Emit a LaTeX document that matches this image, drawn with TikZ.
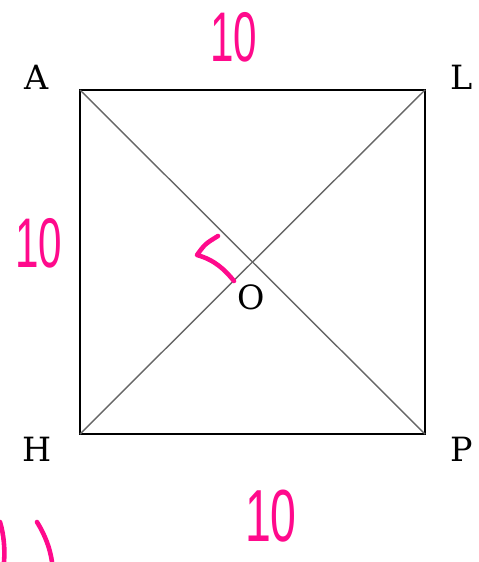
\documentclass[tikz,border=0pt]{standalone}
\usepackage{fontspec}
\newfontfamily\cornerfont{DejaVu Serif}
\newfontfamily\penfont{Liberation Sans}
\usetikzlibrary{positioning}
\definecolor{marker}{HTML}{FF0A8C}
\tikzstyle{corner} = [font=\cornerfont\fontsize{19}{19}\selectfont, inner sep=0pt]
\tikzstyle{side} = [draw, line width=1.2pt, line join=miter]
\tikzstyle{diag} = [draw=gray!80!black, line width=0.8pt]
\tikzstyle{note} = [text=marker, font=\penfont\fontsize{40}{40}\selectfont, inner sep=0pt]
\tikzstyle{pen} = [draw=marker, line width=2.6pt, line cap=round, line join=round]

\begin{document}
\begin{tikzpicture}[x=0.2mm, y=-0.2mm]
    \useasboundingbox (0,0) rectangle (478,562);
    \coordinate (a) at (80,90);
    \coordinate (l) at (425,90);
    \coordinate (p) at (425,434);
    \coordinate (h) at (80,434);

    \node [corner] (lblA) at (37,77) {A};
    \node [corner] (lblL) at (462,77) {L};
    \node [corner] (lblH) at (37,449) {H};
    \node [corner] (lblP) at (462,449) {P};
    \node [corner] (lblO) at (251,297) {O};

    \draw [side] (a) -- (l) -- (p) -- (h) -- cycle;
    \draw [diag] (a) -- (p);
    \draw [diag] (l) -- (h);

    % handwritten marks
    \node [note] (top) at (234,37) {\scalebox{0.6}[1]{10}};
    \node [note] (left) at (39,243) {\scalebox{0.6}[1]{10}};
    \node [note] (bottom) at (271,516) {\scalebox{0.66}[1.05]{10}};
    \draw [pen] (218,236) .. controls (205,244) .. (197,255)
        .. controls (215,260) and (225,270) .. (234,281);
    \draw [pen] (37,522) .. controls (45,535) and (50,548) .. (52,562);
    \draw [pen] (0,522) .. controls (4,535) and (5,550) .. (4,562);
\end{tikzpicture}
\end{document}
